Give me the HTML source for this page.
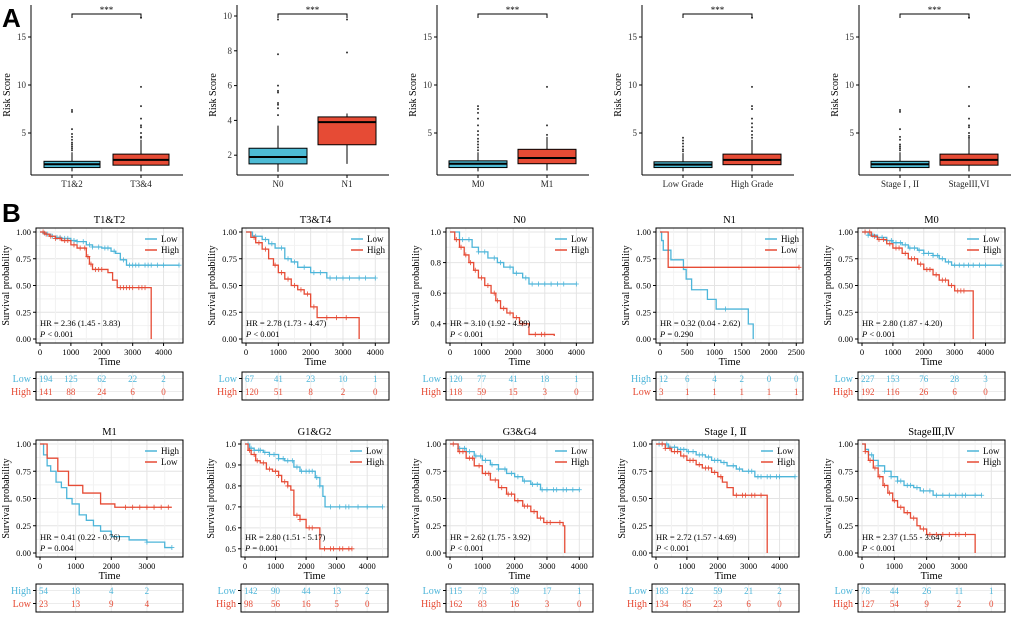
<!DOCTYPE html>
<html><head><meta charset="utf-8">
<style>
body{margin:0;background:#fff;}
svg{display:block;font-family:"Liberation Serif","DejaVu Serif",serif;}
.lbl{font-family:"Liberation Sans",sans-serif;font-weight:bold;}
</style></head>
<body>
<svg id="fig" width="1020" height="621" viewBox="0 0 1020 621" xmlns="http://www.w3.org/2000/svg">
<text class="lbl" x="2" y="27" font-size="26">A</text>
<text class="lbl" x="2" y="222" font-size="26">B</text>
</svg>
<script>
// ===== Box plot data (Risk Score) =====
const boxCats = [["T1&2","T3&4"],["N0","N1"],["M0","M1"],["Low Grade","High Grade"],["Stage I , II","StageIII,VI"]];
const boxQ1 = [[1.4,1.65],[1.5,2.6],[1.4,1.8],[1.4,1.7],[1.4,1.65]];
const boxMed = [[1.75,2.2],[1.9,3.9],[1.8,2.4],[1.7,2.2],[1.75,2.2]];
const boxQ3 = [[2.05,2.8],[2.4,4.2],[2.1,3.3],[2.0,2.8],[2.05,2.8]];
const boxLo = [[1.0,1.0],[1.05,1.5],[1.0,1.1],[1.0,1.0],[1.0,1.0]];
const boxHi = [[3.0,4.3],[3.7,4.4],[3.0,4.6],[2.9,4.3],[3.0,4.5]];
const boxOut = [
 [[3.2,3.4,3.6,3.8,4.0,4.3,4.6,4.9,5.4,7.2,7.4],[4.5,4.6,5.0,5.6,5.8,6.5,7.8,9.8,17]],
 [[4.3,4.7,4.9,5.0,5.6,5.7,6.0,7.8,9.8],[7.9,9.8]],
 [[3.2,3.5,3.8,4.1,4.4,4.8,5.2,5.8,6.5,7.1,7.5,7.8],[4.8,5.8,9.8]],
 [[3.1,3.3,3.6,3.9,4.2,4.5],[4.5,4.8,5.2,5.6,6.0,6.5,7.5,7.8,9.8,17]],
 [[3.2,3.4,3.6,3.8,4.3,4.6,5.4,7.2,7.4],[4.5,4.7,5.0,5.6,5.8,6.5,7.8,9.8,17]]
];
const boxTicks = [[5,10,15],[2,4,6,8,10],[5,10,15],[5,10,15],[5,10,15]];

// ===== KM data =====
const kmTitles = ["T1&T2","T3&T4","N0","N1","M0","M1","G1&G2","G3&G4","Stage Ⅰ, Ⅱ","StageⅢ,Ⅳ"];
const kmLegA = ["Low","Low","Low","High","Low","High","Low","Low","Low","Low"];
const kmLegB = ["High","High","High","Low","High","Low","High","High","High","High"];
const kmAT = [
 [0,100,200,350,500,700,1000,1200,1500,1700,2000,2300,2450,2600,2800,4500],
 [0,200,500,700,900,1200,1400,1600,2000,2500,4000],
 [0,300,700,900,1200,1500,1700,2000,2300,2500,4000],
 [0,30,60,200,430,480,580,870,1030,1620,1710],
 [0,200,500,800,1000,1300,1500,1800,2000,2300,2500,2700,2900,4500],
 [0,100,200,300,450,600,750,900,1100,1300,1500,1700,2000,2500,3000,3500,3700],
 [0,150,300,600,800,1100,1300,1600,1800,2000,2300,2450,2550,2620,4500],
 [0,250,500,750,1000,1250,1500,1750,2000,2250,2500,2800,4000],
 [0,400,700,1000,1300,1600,1800,2100,2300,2600,2800,3200,4500],
 [0,100,200,350,500,700,900,1100,1300,1600,1800,2200,3700]
];
const kmAS = [
 [1,0.99,0.98,0.96,0.95,0.94,0.92,0.91,0.88,0.86,0.85,0.82,0.80,0.74,0.69,0.69],
 [1,0.96,0.93,0.89,0.85,0.75,0.72,0.67,0.62,0.57,0.57],
 [1,0.95,0.9,0.87,0.83,0.8,0.77,0.73,0.70,0.66,0.66],
 [1,0.92,0.83,0.74,0.65,0.56,0.46,0.37,0.28,0.14,0],
 [1,0.97,0.95,0.92,0.9,0.88,0.85,0.83,0.8,0.78,0.75,0.72,0.69,0.69],
 [1,0.9,0.8,0.75,0.65,0.6,0.5,0.45,0.35,0.3,0.25,0.2,0.15,0.12,0.1,0.05,0.05],
 [1,0.98,0.97,0.96,0.95,0.93,0.92,0.89,0.87,0.87,0.84,0.80,0.75,0.70,0.70],
 [1,0.96,0.93,0.89,0.85,0.81,0.77,0.73,0.70,0.66,0.63,0.58,0.58],
 [1,0.97,0.95,0.93,0.9,0.88,0.85,0.83,0.8,0.77,0.75,0.7,0.7],
 [1,0.95,0.9,0.85,0.8,0.75,0.7,0.66,0.62,0.6,0.57,0.53,0.53]
];
const kmBT = [
 [0,150,300,500,700,1000,1200,1500,1600,1700,2200,2350,2500,3600,3600],
 [0,150,300,500,700,850,1000,1200,1400,1600,1800,2000,2200,3500,3500],
 [0,150,300,450,600,750,900,1100,1300,1450,1600,1800,2000,2200,2500,3300],
 [0,150,2550],
 [0,300,500,800,1000,1300,1500,1800,2000,2300,2500,2800,3000,3600,3600],
 [0,200,500,800,1200,1700,2100,3700],
 [0,100,200,350,500,700,900,1100,1200,1400,1500,1600,1800,2000,2450,3500],
 [0,250,500,750,1000,1250,1500,1750,2000,2250,2500,2700,2900,3500,3550],
 [0,300,500,800,1000,1300,1500,1800,2000,2150,2300,2500,3600,3600],
 [0,100,200,350,500,650,800,950,1100,1300,1500,1700,1800,2000,3500,3500]
];
const kmBS = [
 [1,0.98,0.96,0.94,0.92,0.88,0.85,0.77,0.70,0.65,0.62,0.55,0.48,0.48,0],
 [1,0.95,0.9,0.84,0.75,0.69,0.62,0.56,0.5,0.46,0.42,0.3,0.2,0.2,0],
 [1,0.95,0.9,0.85,0.8,0.75,0.7,0.65,0.6,0.55,0.5,0.47,0.44,0.4,0.33,0.32],
 [1,0.67,0.67],
 [1,0.96,0.93,0.89,0.85,0.8,0.75,0.7,0.65,0.6,0.55,0.5,0.45,0.44,0],
 [1,0.87,0.75,0.62,0.55,0.45,0.42,0.42],
 [1,0.97,0.95,0.92,0.91,0.88,0.87,0.85,0.82,0.80,0.78,0.66,0.64,0.60,0.50,0.50],
 [1,0.93,0.87,0.8,0.73,0.67,0.6,0.54,0.48,0.43,0.38,0.32,0.28,0.25,0],
 [1,0.96,0.93,0.89,0.85,0.81,0.78,0.74,0.7,0.65,0.6,0.53,0.53,0],
 [1,0.93,0.85,0.78,0.7,0.62,0.55,0.48,0.42,0.37,0.32,0.25,0.22,0.17,0.17,0]
];
const kmCensA = [
 [150,250,400,550,650,800,900,1100,1200,1400,1600,1700,1900,2100,2200,2400,2700,2900,3000,3100,3200,3400,3500,3600,3800,4000,4500],
 [300,600,800,1100,1300,1500,1800,2100,2300,2600,2800,3000,3200,3500,3700,4000],
 [400,600,900,1100,1400,1600,1900,2100,2400,2600,2800,3000,3200,3400,3600,4000],
 [1200],
 [100,200,350,500,650,800,950,1100,1250,1400,1550,1700,1850,2000,2150,2300,2450,2600,2800,3000,3150,3300,3450,3600,3800,4000,4500],
 [3000,3700],
 [100,200,300,450,500,650,800,950,1100,1250,1400,1550,1700,1850,2000,2100,2200,2350,2450,2800,3100,3300,3400,3700,4000,4500],
 [300,450,600,800,950,1100,1300,1500,1700,1900,2100,2300,2550,2700,2850,3000,3200,3300,3500,3600,3800,4000],
 [100,200,350,450,600,800,900,1050,1200,1400,1500,1700,1900,2000,2200,2500,2700,3000,3100,3300,3400,3600,3700,3900,4000,4500],
 [300,500,700,900,1100,1200,1400,1500,1700,1900,2100,2300,2500,2700,2900,3100,3200,3500,3700]
];
const kmCensB = [
 [100,200,350,500,650,800,900,1100,1300,1450,1550,1650,1800,1900,2000,2600,2700,2800,2900,3000,3200,3300,3400],
 [250,400,600,900,1100,1300,1500,1700,1900,2100,2500,2800,3100],
 [200,350,500,650,800,1000,1200,1400,1500,1700,1900,2100,2300,2700,2900,3000],
 [2550],
 [100,250,400,550,700,900,1100,1200,1400,1600,1700,1900,2100,2200,2400,2600,2700,2900,3100,3200,3300],
 [2400,2600,2800,3000,3200,3400,3600],
 [150,300,400,600,800,1000,1100,1300,1400,1700,1800,2100,2200,2600,2800,2900,3100,3200,3400,3500],
 [100,300,400,600,700,900,1100,1200,1400,1600,1800,1900,2100,2300,2400,2600,2800,3000,3100,3400],
 [200,300,450,600,700,900,1100,1200,1400,1600,1700,1900,2100,2600,2800,2900,3100,3200,3400],
 [100,250,400,550,700,850,1000,1200,1400,1600,1900,2100,2300,2500,2700,2900,3000,3200]
];
const kmHR = ["HR = 2.36  (1.45  -  3.83)","HR = 2.78  (1.73  -  4.47)","HR = 3.10  (1.92  -  4.99)","HR = 0.32  (0.04  -  2.62)","HR = 2.80  (1.87  -  4.20)",
 "HR = 0.41  (0.22  -  0.76)","HR = 2.80  (1.51  -  5.17)","HR = 2.62  (1.75  -  3.92)","HR = 2.72  (1.57  -  4.69)","HR = 2.37  (1.55  -  3.64)"];
const kmP = ["< 0.001","< 0.001","< 0.001","= 0.290","< 0.001","= 0.004","= 0.001","< 0.001","< 0.001","< 0.001"];
const kmTabA = [[194,125,62,22,2],[67,41,23,10,1],[120,77,41,18,1],[12,6,4,2,0,0],[227,153,76,28,3],[54,18,4,2],[142,90,44,13,2],[115,73,39,17,1],[183,122,59,21,2],[78,44,26,11,1]];
const kmTabB = [[141,88,24,6,0],[120,51,8,2,0],[118,59,15,3,0],[3,1,1,1,1,1],[192,116,26,6,0],[23,13,9,4],[98,56,16,5,0],[162,83,16,3,0],[134,85,23,6,0],[127,54,9,2,0]];
const kmXTicks = [[0,1000,2000,3000,4000],[0,1000,2000,3000,4000],[0,1000,2000,3000,4000],[0,500,1000,1500,2000,2500],[0,1000,2000,3000,4000],
 [0,1000,2000,3000],[0,1000,2000,3000,4000],[0,1000,2000,3000,4000],[0,1000,2000,3000,4000],[0,1000,2000,3000]];
const kmTabTimes = [[0,1000,2000,3000,4000],[0,1000,2000,3000,4000],[0,1000,2000,3000,4000],[0,500,1000,1500,2000,2500],[0,1000,2000,3000,4000],
 [0,1000,2000,3000],[0,1000,2000,3000,4000],[0,1000,2000,3000,4000],[0,1000,2000,3000,4000],[0,1000,2000,3000,4000]];
const kmXMax = [4500,4300,4400,2550,4500,3900,4550,4300,4500,4300];
const kmYMin = [0,0,0.3,0,0,0,0.48,0,0,0];
const kmYTicks = [[0,0.25,0.5,0.75,1],[0,0.25,0.5,0.75,1],[0.4,0.6,0.8,1.0],[0,0.25,0.5,0.75,1],[0,0.25,0.5,0.75,1],
 [0,0.25,0.5,0.75,1],[0.5,0.6,0.7,0.8,0.9,1.0],[0,0.25,0.5,0.75,1],[0,0.25,0.5,0.75,1],[0,0.25,0.5,0.75,1]];
const kmYDigits = [2,2,1,2,2,2,1,2,2,2];

const BLUE="#4DB5D9", RED="#E64B35", BOXBLUE="#4DBBD5", BOXRED="#E64B35";
const svg=document.getElementById('fig');
const NS="http://www.w3.org/2000/svg";
function mk(tag,attrs,parent,text){const e=document.createElementNS(NS,tag);for(const k in attrs)e.setAttribute(k,attrs[k]);if(text!==undefined)e.textContent=text;(parent||svg).appendChild(e);return e;}

// ===== Box plots =====
const boxAxisX=[31,237,437,642,859];
for(let p=0;p<5;p++){
  const g=mk('g',{});
  
  
  const ax=boxAxisX[p];
  const y = p===1 ? (v=>190-17.4*v) : (v=>181-9.6*v);
  const xl=mk('line',{x1:ax,y1:5,x2:ax,y2:175,stroke:'#000','stroke-width':1},g);
   
  const bl=mk('line',{x1:ax,y1:175,x2:ax+152,y2:175,stroke:'#000','stroke-width':1},g);
   
  boxTicks[p].forEach(t=>{
    mk('line',{x1:ax-3,y1:y(t),x2:ax,y2:y(t),stroke:'#000'},g);
    const tl=mk('text',{x:ax-5,y:y(t)+3,'font-size':9,'text-anchor':'end',fill:'#333'},g,String(t));
     
  });
  const yt=mk('text',{x:0,y:0,'font-size':10,'text-anchor':'middle',transform:`translate(${ax-21},95) rotate(-90)`},g,'Risk Score');
   
  const cx=[ax+41,ax+110], w=p===0?56:58;
  for(let k=0;k<2;k++){
    const c=cx[k], col=k?BOXRED:BOXBLUE;
    mk('line',{x1:c,y1:y(boxHi[p][k]),x2:c,y2:y(boxLo[p][k]),stroke:'#000','stroke-width':1},g);
    const r=mk('rect',{x:c-w/2,y:y(boxQ3[p][k]),width:w,height:y(boxQ1[p][k])-y(boxQ3[p][k]),fill:col,stroke:'#000','stroke-width':1},g);
    
    
    mk('line',{x1:c-w/2,y1:y(boxMed[p][k]),x2:c+w/2,y2:y(boxMed[p][k]),stroke:'#000','stroke-width':2},g);
    boxOut[p][k].forEach(v=>{ if(y(v)>4) mk('circle',{cx:c,cy:y(v),r:1,fill:'#333'},g); });
    mk('line',{x1:c,y1:175,x2:c,y2:178,stroke:'#000'},g);
    const lab=mk('text',{x:c,y:187,'font-size':9,'text-anchor':'middle',fill:'#222'},g,boxCats[p][k]);
     
  }
  mk('path',{d:`M${cx[0]},18 V14 H${cx[1]} V18`,fill:'none',stroke:'#000','stroke-width':1},g);
  const st=mk('text',{x:(cx[0]+cx[1])/2,y:13,'font-size':9,'text-anchor':'middle'},g,'***');
   
}

// ===== KM panels =====
const kmLeft=[36,242,446,656,858,36,241,446,652,858];
for(let p=0;p<10;p++){
  const g=mk('g',{});
  
  
  const L=kmLeft[p], top=p<5?228:440, H=p<5?115:117, W=147, R=L+W, B=top+H;
  const x=t=>L+4+(W-8)*t/kmXMax[p];
  const y=s=>B-4-(H-8)*(s-kmYMin[p])/(1-kmYMin[p]);
  const yt=kmYTicks[p], xt=kmXTicks[p];
  const ystep=yt[1]-yt[0], xstep=xt[1]-xt[0];
  for(let v=yt[0]-ystep/2;v<=1.0001;v+=ystep/2){ if(y(v)>top&&y(v)<B) mk('line',{x1:L,x2:R,y1:y(v),y2:y(v),stroke:Math.abs((v-yt[0])/ystep-Math.round((v-yt[0])/ystep))<0.01?'#e4e4e4':'#f2f2f2','stroke-width':1},g); }
  for(let v=0;x(v)<R;v+=xstep/2){ mk('line',{y1:top,y2:B,x1:x(v),x2:x(v),stroke:(Math.round(v/xstep*2)%2===0)?'#e4e4e4':'#f2f2f2','stroke-width':1},g); }
  const tt=mk('text',{x:(L+R)/2,y:top-5,'font-size':10.5,'text-anchor':'middle'},g,kmTitles[p]);
   
  yt.forEach(v=>{
    mk('line',{x1:L-3,x2:L,y1:y(v),y2:y(v),stroke:'#000'},g);
    const l=mk('text',{x:L-5,y:y(v)+3,'font-size':8.5,'text-anchor':'end'},g,v.toFixed(kmYDigits[p]));
     
  });
  xt.forEach(v=>{
    mk('line',{x1:x(v),x2:x(v),y1:B,y2:B+3,stroke:'#000'},g);
    const l=mk('text',{x:x(v),y:B+12,'font-size':8.5,'text-anchor':'middle'},g,String(v));
     
  });
  const xtl=mk('text',{x:(L+R)/2,y:B+22,'font-size':10.5,'text-anchor':'middle'},g,'Time');
   
  const ytl=mk('text',{x:0,y:0,'font-size':10,'text-anchor':'middle',transform:`translate(${L-27},${(top+B)/2}) rotate(-90)`},g,'Survival probability');
   
  const curves=[[kmAT[p],kmAS[p],kmCensA[p],BLUE,kmLegA[p]],[kmBT[p],kmBS[p],kmCensB[p],RED,kmLegB[p]]];
  curves.forEach(([T,S,C,col,name])=>{
    let d=`M${x(T[0])},${y(S[0])}`;
    for(let i=1;i<T.length;i++) d+=` H${x(T[i])} V${y(S[i])}`;
    const pth=mk('path',{d:d,fill:'none',stroke:col,'stroke-width':1.3},g);
    
    
    C.forEach(c=>{
      let s=S[0]; for(let i=0;i<T.length;i++){ if(T[i]<=c) s=S[i]; }
      if(c>T[T.length-1]) return;
      mk('path',{d:`M${x(c)},${y(s)-2.5} V${y(s)+2.5} M${x(c)-2.5},${y(s)} H${x(c)+2.5}`,stroke:col,'stroke-width':0.8,fill:'none'},g);
    });
  });
  [[BLUE,kmLegA[p]],[RED,kmLegB[p]]].forEach(([col,name],i)=>{
    const ly=top+11+i*11;
    const ln=mk('line',{x1:R-38,x2:R-26,y1:ly,y2:ly,stroke:col,'stroke-width':1.5},g);
     
    const lt=mk('text',{x:R-22,y:ly+3,'font-size':9},g,name);
     
  });
  const fr=mk('rect',{x:L,y:top,width:W,height:H,fill:'none',stroke:'#000','stroke-width':1},g);
   
  const hr=mk('text',{x:L+4,y:B-17,'font-size':8.5},g,kmHR[p]);
   
  const pv=mk('text',{x:L+4,y:B-6,'font-size':8.5},g);
   
  mk('tspan',{'font-style':'italic'},pv,'P');
  mk('tspan',{},pv,' '+kmP[p]);
  const tTop=p<5?372:584, tH=28;
  const r1=tTop+10, r2=tTop+23;
  kmTabTimes[p].forEach(t=>mk('line',{x1:x(t),x2:x(t),y1:tTop,y2:tTop+tH,stroke:'#ececec'},g));
  [r1,r2].forEach(ry=>mk('line',{x1:L,x2:R,y1:ry-3.5,y2:ry-3.5,stroke:'#ececec'},g));
  const tb=mk('rect',{x:L,y:tTop,width:W,height:tH,fill:'none',stroke:'#000','stroke-width':1},g);
   
  [[r1,kmLegA[p],BLUE,kmTabA[p]],[r2,kmLegB[p],RED,kmTabB[p]]].forEach(([ry,name,col,vals])=>{
    mk('line',{x1:L-3,x2:L,y1:ry-3.5,y2:ry-3.5,stroke:'#000'},g);
    const rl=mk('text',{x:L-5,y:ry,'font-size':10,'text-anchor':'end',fill:col},g,name);
     
    vals.forEach((v,i)=>{
      const tx=mk('text',{x:i===0?L+3:x(kmTabTimes[p][i]),y:ry,'font-size':9,'text-anchor':i===0?'start':'middle',fill:col},g,String(v));
       
    });
  });
}
</script>
</body></html>
